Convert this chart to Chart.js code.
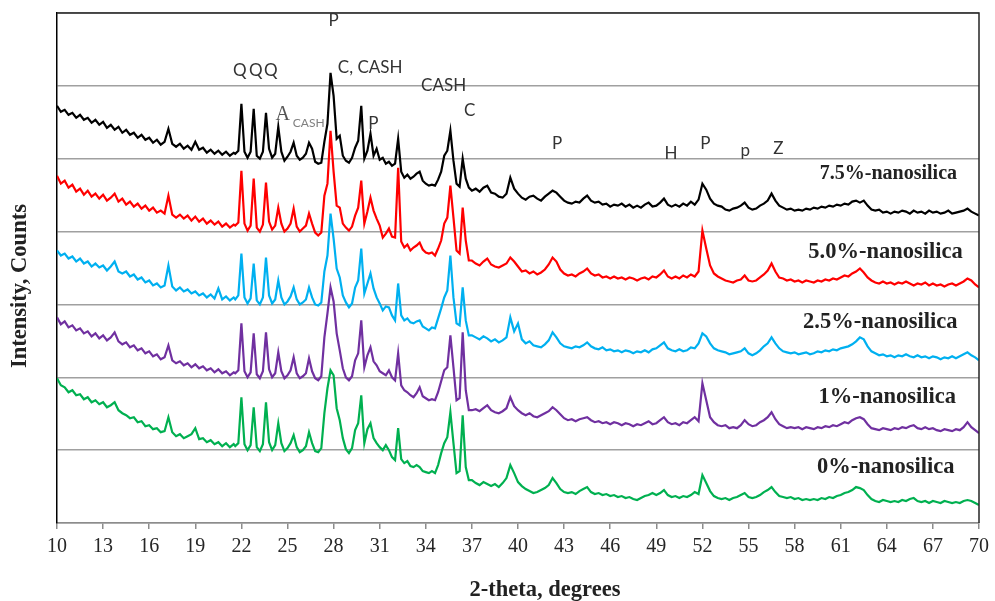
<!DOCTYPE html>
<html>
<head>
<meta charset="utf-8">
<title>XRD patterns - nanosilica</title>
<script src="https://cdn.jsdelivr.net/npm/chart.js@4.4.1/dist/chart.umd.min.js"></script>
<style>
  html, body { margin: 0; padding: 0; background: #fff; }
  #wrap { width: 995px; height: 601px; }
</style>
</head>
<body>
<div id="wrap"><canvas id="xrd" width="995" height="601"></canvas></div>
<script>
// 2-theta positions (degrees), shared by all five patterns
const twoTheta = [
  10, 10.25, 10.5, 10.75, 11, 11.25, 11.5, 11.75, 12, 12.25, 12.5, 12.75,
  13, 13.25, 13.5, 13.75, 14, 14.25, 14.5, 14.75, 15, 15.25, 15.5, 15.75,
  16, 16.25, 16.5, 16.75, 17, 17.25, 17.5, 17.75, 18, 18.25, 18.5, 18.75,
  19, 19.25, 19.5, 19.75, 20, 20.25, 20.5, 20.75, 21, 21.25, 21.5,
  21.6, 21.8,
  22, 22.2, 22.4, 22.6, 22.8, 23, 23.2, 23.4, 23.6, 23.8,
  24, 24.2, 24.4, 24.6, 24.8, 25, 25.2, 25.4, 25.6, 25.8,
  26, 26.2, 26.4, 26.6, 26.8, 27, 27.2, 27.4, 27.6, 27.8,
  28, 28.2, 28.4, 28.6, 28.8, 29, 29.2, 29.4, 29.6, 29.8,
  30, 30.2, 30.4, 30.6, 30.8, 31, 31.2, 31.4, 31.6, 31.8,
  32, 32.2, 32.4, 32.6, 32.8, 33, 33.2, 33.4, 33.6, 33.8,
  34, 34.2, 34.4, 34.6, 34.8, 35, 35.2, 35.4, 35.6, 35.8,
  36, 36.2, 36.4, 36.6, 36.8, 37,
  37.25, 37.5, 37.75, 38, 38.25, 38.5, 38.75, 39, 39.25, 39.5, 39.75, 40,
  40.25, 40.5, 40.75, 41, 41.25, 41.5, 41.75, 42, 42.25, 42.5, 42.75, 43,
  43.25, 43.5, 43.75, 44, 44.25, 44.5, 44.75, 45, 45.25, 45.5, 45.75, 46,
  46.25, 46.5, 46.75, 47, 47.25, 47.5, 47.75, 48, 48.25, 48.5, 48.75, 49,
  49.25, 49.5, 49.75, 50, 50.25, 50.5, 50.75, 51, 51.25, 51.5, 51.75, 52,
  52.25, 52.5, 52.75, 53, 53.25, 53.5, 53.75, 54, 54.25, 54.5, 54.75, 55,
  55.25, 55.5, 55.75, 56, 56.25, 56.5, 56.75, 57, 57.25, 57.5, 57.75, 58,
  58.25, 58.5, 58.75, 59, 59.25, 59.5, 59.75, 60, 60.25, 60.5, 60.75, 61,
  61.25, 61.5, 61.75, 62, 62.25, 62.5, 62.75, 63, 63.25, 63.5, 63.75, 64,
  64.25, 64.5, 64.75, 65, 65.25, 65.5, 65.75, 66, 66.25, 66.5, 66.75, 67,
  67.25, 67.5, 67.75, 68, 68.25, 68.5, 68.75, 69, 69.25, 69.5, 69.75, 70
];

// stacked intensities (arbitrary units, offset patterns as plotted)
const ns75 = [
  418, 412, 414, 409, 411, 406, 409, 404, 406, 401, 404, 399,
  402, 396, 399, 394, 397, 391, 394, 389, 391, 386, 389, 384,
  386, 381, 384, 379, 382, 395, 380, 377, 380, 375, 378, 374,
  382, 374, 376, 371, 374, 370, 373, 369, 372, 368, 371,
  370, 373,
  420, 372, 366, 372, 415, 368, 365, 372, 411, 375,
  366, 370, 397, 372, 363, 367, 372, 381, 368, 364,
  366, 370, 381, 375, 362, 360, 361, 382, 400, 451,
  428, 385, 388, 368, 363, 361, 366, 376, 383, 418,
  365, 373, 390, 368, 375, 364, 366, 360, 362, 358,
  360, 385, 352, 346, 349, 345, 347, 350, 352, 343,
  340, 338, 339, 338, 344, 352, 368, 373, 393, 363,
  340, 337, 365, 345, 336, 333,
  335, 332, 336, 338, 331, 330, 327, 326, 330, 346, 335, 330,
  326, 324, 327, 328, 325, 323, 327, 330, 333, 331, 327, 323,
  321, 320, 322, 321, 325, 328, 323, 321, 322, 319, 320, 317,
  319, 318, 320, 317, 319, 316, 318, 316, 319, 321, 317, 318,
  321, 325, 319, 317, 319, 317, 320, 318, 322, 319, 324, 340,
  334, 325, 320, 318, 317, 314, 313, 315, 316, 318, 321, 316,
  314, 315, 318, 320, 323, 330, 323, 318, 316, 314, 315, 313,
  314, 313, 315, 314, 316, 315, 317, 316, 318, 317, 319, 318,
  320, 319, 322, 323, 321, 323, 318, 314, 313, 314, 311, 312,
  310, 312, 311, 313, 312, 310, 313, 311, 312, 310, 313, 311,
  312, 310, 311, 313, 310, 311, 312, 313, 315, 312, 310, 308
];
const ns50 = [
  348, 340, 343, 336, 339, 332, 335, 329, 333, 327, 330, 325,
  329, 323, 326, 330, 322, 325, 319, 322, 317, 320, 315, 318,
  313, 316, 311, 313, 310, 328, 309, 306, 309, 305, 308, 303,
  307, 302, 305, 300, 303, 299, 302, 297, 300, 296, 299,
  298, 301,
  353, 300, 293, 298, 345, 296, 292, 299, 341, 302,
  294, 298, 316, 300, 292, 295, 300, 315, 297, 292,
  295, 298, 310, 300, 291, 288, 291, 328, 340, 393,
  352, 318, 316, 300, 296, 293, 297, 308, 316, 343,
  300, 312, 326, 313, 305, 298, 286, 290, 295, 287,
  286, 356, 282, 276, 279, 273, 276, 278, 281, 274,
  271, 270, 271, 268, 275, 283, 300, 306, 338, 306,
  273, 270, 316, 283, 263, 263,
  260, 258, 262, 265, 259, 257, 256, 258, 260, 266, 262, 257,
  252, 253, 250, 252, 249, 251, 254, 259, 266, 262, 254, 250,
  248, 249, 247, 250, 252, 255, 250, 248, 249, 246, 247, 245,
  247, 245, 246, 244, 246, 245, 243, 245, 246, 244, 247, 246,
  249, 253, 247, 245, 247, 245, 248, 246, 249, 247, 252, 293,
  275, 258, 250, 247, 245, 243, 242, 241, 243, 244, 248, 243,
  242, 243, 246, 249, 253, 260, 252, 246, 245, 243, 244, 242,
  243, 241, 243, 242, 241, 243, 242, 244, 243, 245, 244, 246,
  248, 247, 250, 252, 255, 251, 246, 243, 241, 240, 242, 240,
  241, 239, 241, 240, 242, 240, 238, 240, 239, 241, 238, 240,
  238, 239, 237, 239, 240, 238, 240, 242, 245, 243, 239, 236
];
const ns25 = [
  273, 268, 270, 265, 267, 262, 265, 260, 262, 257, 260, 256,
  258, 253, 257, 262, 252, 250, 252, 247, 249, 244, 246, 241,
  243, 238, 240, 236, 238, 258, 237, 233, 236, 232, 234, 230,
  232, 228, 230, 226, 229, 225, 235, 224, 227, 223, 226,
  224, 228,
  270, 226, 220, 225, 260, 223, 219, 226, 266, 228,
  220, 224, 243, 226, 219, 222, 227, 236, 224, 219,
  221, 224, 236, 226, 219, 218, 221, 252, 268, 310,
  285, 255, 246, 228, 221, 216, 220, 236, 243, 275,
  230, 240, 250, 235, 226, 220, 213, 217, 216, 208,
  203, 240, 208, 203, 205, 201, 200, 202, 203, 197,
  195, 193, 196, 195, 205, 215, 226, 233, 268, 226,
  200, 198, 236, 203, 188, 188,
  186, 184, 187, 185, 182, 184, 181, 183, 186, 206, 192, 200,
  184, 180, 182, 178, 177, 176, 179, 183, 191, 186, 180, 177,
  176, 175, 177, 176, 178, 181, 177, 175, 174, 176, 173, 174,
  172, 173, 171, 173, 172, 170, 172, 171, 173, 171, 174, 175,
  178, 181, 175, 173, 172, 174, 172, 173, 176, 175, 180, 190,
  187, 180, 175, 173, 172, 171, 169, 170, 171, 172, 175, 170,
  168, 170, 173, 177, 180, 186, 180, 175, 172, 171, 170, 171,
  169, 170, 171, 169, 170, 172, 171, 173, 172, 174, 173, 175,
  176, 177, 179, 182, 186, 184, 177, 172, 170, 168, 169, 167,
  168, 166, 168, 167, 169, 167, 166, 168, 166, 167, 165, 167,
  166, 164, 166, 165, 167, 165, 167, 169, 171, 168, 166, 163
];
const ns10 = [
  206, 199, 202, 196, 198, 193, 195, 190, 192, 187, 190, 185,
  188, 183, 186, 191, 182, 179, 181, 176, 178, 173, 175, 170,
  172, 167, 169, 164, 166, 178, 163, 160, 162, 158, 160, 156,
  159, 155, 157, 153, 155, 151, 154, 150, 152, 148, 151,
  150, 153,
  200, 152, 146, 151, 190, 149, 145, 152, 191, 154,
  146, 150, 171, 152, 145, 148, 153, 166, 150, 145,
  147, 150, 165, 152, 145, 143, 147, 186, 210, 236,
  222, 190, 173, 155, 146, 143, 147, 163, 170, 203,
  156, 168, 176, 162, 158, 152, 150, 148, 153, 146,
  143, 170, 138, 133, 131, 128, 126, 130, 136, 127,
  125, 123, 124, 123, 131, 142, 153, 156, 188, 156,
  123, 125, 191, 133, 113, 113,
  114, 112, 115, 118, 113, 111, 110, 112, 115, 126, 117, 113,
  110, 108, 110, 107, 106, 108, 110, 112, 116, 113, 109, 105,
  103, 104, 102, 104, 105, 106, 103, 101, 102, 100, 101, 99,
  101, 100, 98, 100, 99, 97, 99, 98, 100, 102, 99, 100,
  103, 106, 101, 99, 100, 98, 101, 100, 103, 106, 102, 140,
  123, 106, 101, 98, 97, 98, 95, 96, 95, 98, 103, 99,
  97, 98, 101, 103, 106, 111, 104, 99, 97, 95, 96, 95,
  96, 94, 96, 95, 94, 96, 95, 97, 96, 98, 97, 99,
  101, 100, 103, 105, 106, 104, 99, 95, 94, 93, 95, 94,
  93, 95, 94, 96, 95, 97, 98, 95, 94, 96, 94, 95,
  93, 92, 94, 93, 92, 94, 93, 96, 101, 96, 93, 90
];
const ns0 = [
  145, 138, 136, 131, 133, 128, 129, 124, 126, 121, 123, 119,
  121, 116, 118, 121, 113, 110, 108, 105, 106, 101, 102, 97,
  98, 94, 95, 91, 92, 106, 91, 87, 89, 85, 87, 89,
  95, 84, 85, 81, 83, 79, 81, 77, 80, 76, 79,
  77, 80,
  126, 79, 73, 78, 116, 76, 72, 79, 121, 81,
  73, 78, 100, 80, 72, 75, 80, 88, 76, 71,
  73, 77, 91, 80, 72, 71, 75, 110, 135, 153,
  148, 115, 103, 85, 74, 70, 75, 93, 100, 128,
  80, 94, 100, 85, 80, 76, 73, 78, 73, 66,
  63, 95, 64, 60, 62, 57, 56, 58, 56, 52,
  51, 50, 52, 50, 58, 70, 80, 86, 111, 80,
  50, 52, 108, 56, 43, 43,
  40, 38, 41, 39, 37, 39, 36, 40, 45, 58, 50, 41,
  37, 34, 32, 30, 31, 33, 35, 38, 45, 40, 34, 31,
  30, 31, 29, 32, 34, 36, 31, 29, 30, 28, 29, 27,
  28, 26, 27, 25, 26, 24, 23, 25, 27, 28, 30, 28,
  30, 33, 28, 26, 27, 25, 27, 26, 28, 31, 29, 48,
  40, 32, 27, 25, 24, 25, 23, 25, 26, 28, 30, 26,
  25, 26, 28, 31, 33, 36, 31, 27, 26, 25, 26, 24,
  25, 23, 24, 23, 24, 23, 25, 24, 26, 25, 27, 28,
  30, 31, 33, 36, 35, 33, 28, 24, 22, 21, 23, 22,
  21, 22, 21, 23, 22, 24, 25, 22, 21, 22, 20, 22,
  21, 20, 22, 21, 20, 21, 20, 22, 23, 22, 20, 18
];

const seriesNames = ["0%-nanosilica", "1%-nanosilica", "2.5%-nanosilica", "5.0%-nanosilica", "7.5%-nanosilica"];
const seriesData = [ns0, ns10, ns25, ns50, ns75];
const seriesColors = ["#00b050", "#7030a0", "#00b0f0", "#ff0000", "#000000"];
const xTicks = { min: 10, max: 70, step: 3 };

// phase markers: text, 2-theta, height
const phaseLabels = [
  ["P", 28.0, 503], ["Q", 21.9, 453], ["Q", 22.94, 453], ["Q", 23.91, 453],
  ["C, CASH", 30.38, 456], ["CASH", 35.16, 438], ["C", 36.85, 413], ["P", 30.58, 400],
  ["P", 42.54, 380], ["H", 49.95, 370], ["P", 52.19, 380], ["p", 54.79, 373], ["Z", 56.94, 375]
];

// sample labels: right edge 2-theta, height, font size
const sampleLabels = [
  ["7.5%-nanosilica", 68.57, 350, 20],
  ["5.0%-nanosilica", 68.94, 271, 22.5],
  ["2.5%-nanosilica", 68.6, 201, 22.5],
  ["1%-nanosilica", 68.5, 126, 22.5],
  ["0%-nanosilica", 68.4, 56, 22.5]
];

const overlay = {
  id: "overlay",
  afterDraw(chart) {
    const { ctx, chartArea: a, scales: { x, y } } = chart;
    ctx.save();
    // top and right frame
    ctx.strokeStyle = "#262626";
    ctx.lineWidth = 1.5;
    ctx.beginPath();
    ctx.moveTo(a.left, a.top);
    ctx.lineTo(a.right, a.top);
    ctx.lineTo(a.right, a.bottom);
    ctx.stroke();

    ctx.fillStyle = "#333";
    ctx.textAlign = "center";
    ctx.textBaseline = "middle";
    ctx.font = "17px Lato";
    phaseLabels.forEach(([t, tx, ty]) => {
      ctx.fillText(t, x.getPixelForValue(tx), y.getPixelForValue(ty));
    });

    // A with CASH subscript
    ctx.fillStyle = "#555";
    ctx.font = "20px 'Liberation Serif'";
    ctx.fillText("A", x.getPixelForValue(24.69), y.getPixelForValue(409));
    ctx.fillStyle = "#808080";
    ctx.font = "12px Lato";
    ctx.fillText("CASH", x.getPixelForValue(26.38), y.getPixelForValue(401));

    ctx.fillStyle = "#222";
    ctx.textAlign = "right";
    sampleLabels.forEach(([t, tx, ty, fs]) => {
      ctx.font = "bold " + fs + "px 'Liberation Serif'";
      ctx.fillText(t, x.getPixelForValue(tx), y.getPixelForValue(ty));
    });

    // axis titles
    ctx.textAlign = "center";
    ctx.font = "bold 22.5px 'Liberation Serif'";
    ctx.fillText("2-theta, degrees", 545, 590);
    ctx.translate(20, 286);
    ctx.rotate(-Math.PI / 2);
    ctx.fillText("Intensity, Counts", 0, 0);
    ctx.restore();
  }
};

new Chart(document.getElementById("xrd"), {
  type: "line",
  data: {
    datasets: seriesData.map((vals, i) => ({
      label: seriesNames[i],
      data: twoTheta.map((t, k) => ({ x: t, y: vals[k] })),
      borderColor: seriesColors[i],
      borderWidth: 2.2,
      pointRadius: 0,
      tension: 0,
      fill: false
    }))
  },
  options: {
    responsive: false,
    animation: false,
    layout: { padding: { top: 13, right: 15, left: 0, bottom: 0 } },
    plugins: { legend: { display: false }, tooltip: { enabled: false } },
    scales: {
      x: {
        type: "linear",
        min: xTicks.min,
        max: xTicks.max,
        ticks: {
          stepSize: xTicks.step,
          color: "#262626",
          font: { family: "'Liberation Serif'", size: 20 },
          padding: 6
        },
        grid: { drawOnChartArea: false, drawTicks: true, tickLength: 6, color: "#8c8c8c", lineWidth: 1.5 },
        border: { color: "#8c8c8c", width: 1.5 },
        afterFit(scale) { scale.height = 78; }
      },
      y: {
        min: 0,
        max: 511,
        ticks: { stepSize: 73, display: false },
        grid: { color: "#a0a0a0", lineWidth: 1.5, drawTicks: false },
        border: { color: "#000", width: 1.5 },
        afterFit(scale) { scale.width = 57; }
      }
    }
  },
  plugins: [overlay]
});
</script>
</body>
</html>
